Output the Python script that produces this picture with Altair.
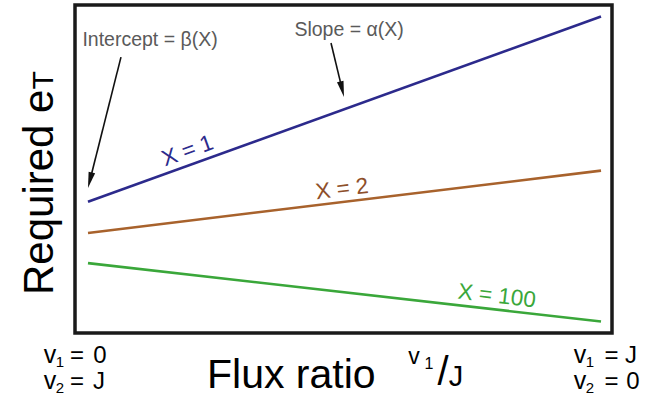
import altair as alt
import pandas as pd

# Required e_T as a linear function of the flux ratio v1/J, for three values of X
series = ["X = 1", "X = 2", "X = 100"]
intercepts = [4.0, 3.05, 2.13]      # beta(X): value at v1/J = 0
endpoints = [9.65, 4.95, 0.35]      # value at v1/J = 1
line_colors = ["#2c2a8c", "#a8622c", "#3aa73a"]

flux = [0.0, 1.0]

# labels that sit along each line
label_x = [0.194, 0.495, 0.797]
label_y = [5.55, 4.39, 1.13]
label_angle = [340.1, 353.1, 6.6]
label_colors = ["#2c2a8c", "#8e4f2a", "#3aa73a"]

# callouts for the intercept and the slope
note_text = ["Intercept = \u03b2(X)", "Slope = \u03b1(X)"]
note_x = [0.121, 0.509]
note_y = [8.93, 9.24]
arrow_x0 = [0.0643, 0.4737]
arrow_y0 = [8.41, 8.84]
arrow_x1 = [0.0057, 0.4936]
arrow_y1 = [4.77, 7.55]
tip_x = [0.0, 0.499]
tip_y = [4.42, 7.195]
tip_angle = [14.1, 346.5]

X_DOMAIN = [-0.0253, 1.0214]
Y_DOMAIN = [0, 10]
FONT = "Liberation Sans"

xs = alt.Scale(domain=X_DOMAIN, nice=False, zero=False)
ys = alt.Scale(domain=Y_DOMAIN, nice=False, zero=False)

rows = []
for name, b, e in zip(series, intercepts, endpoints):
    rows.append({"series": name, "x": flux[0], "y": b})
    rows.append({"series": name, "x": flux[1], "y": e})
lines_df = pd.DataFrame(rows)

lines = alt.Chart(lines_df).mark_line(strokeWidth=2.6).encode(
    x=alt.X("x:Q", scale=xs, axis=None),
    y=alt.Y("y:Q", scale=ys, axis=None),
    color=alt.Color("series:N", scale=alt.Scale(domain=series, range=line_colors), legend=None),
)

labels_df = pd.DataFrame({
    "text": series, "x": label_x, "y": label_y,
    "angle": label_angle, "color": label_colors,
})
line_labels = alt.Chart(labels_df).mark_text(
    font=FONT, fontSize=22.5, align="center", baseline="middle"
).encode(
    x=alt.X("x:Q", scale=xs), y=alt.Y("y:Q", scale=ys),
    text="text:N",
    angle=alt.Angle("angle:Q", scale=None),
    color=alt.Color("color:N", scale=None),
)

notes_df = pd.DataFrame({"text": note_text, "x": note_x, "y": note_y})
notes = alt.Chart(notes_df).mark_text(
    font=FONT, fontSize=19.5, align="center", baseline="middle", color="#5a5a5a"
).encode(x=alt.X("x:Q", scale=xs), y=alt.Y("y:Q", scale=ys), text="text:N")

shafts_df = pd.DataFrame({"x": arrow_x0, "y": arrow_y0, "x2": arrow_x1, "y2": arrow_y1})
shafts = alt.Chart(shafts_df).mark_rule(color="#111111", strokeWidth=1.6).encode(
    x=alt.X("x:Q", scale=xs), y=alt.Y("y:Q", scale=ys), x2="x2:Q", y2="y2:Q"
)

heads_df = pd.DataFrame({"x": tip_x, "y": tip_y, "angle": tip_angle})
heads = alt.Chart(heads_df).mark_point(
    shape="M0,0 L-0.42,-2 L0.42,-2 Z", size=256, filled=True,
    color="#111111", opacity=1, strokeWidth=0
).encode(
    x=alt.X("x:Q", scale=xs), y=alt.Y("y:Q", scale=ys),
    angle=alt.Angle("angle:Q", scale=None),
)

# axis titles drawn as text, left-anchored on their baseline
title_text = ["Flux ratio", "Required e", "T"]
title_x = [0.232, -0.0682, -0.0682]
title_y = [-1.677, 1.159, 7.42]
title_size = [41, 42, 30]
title_angle = [0, 270, 270]
titles_df = pd.DataFrame({
    "text": title_text, "x": title_x, "y": title_y,
    "size": title_size, "angle": title_angle,
})
titles = alt.Chart(titles_df).mark_text(
    font=FONT, align="left", baseline="alphabetic", color="#000000"
).encode(
    x=alt.X("x:Q", scale=xs), y=alt.Y("y:Q", scale=ys), text="text:N",
    size=alt.Size("size:Q", scale=None),
    angle=alt.Angle("angle:Q", scale=None),
)

# end-of-axis conditions and the v1/J ratio, pieced together glyph group by glyph group
tick_text = ["v", "1", "=", "0", "v", "2", "=", "J",
             "v", "1", "=", "J", "v", "2", "=", "0",
             "v", "1", "/", "J"]
tick_x = [-0.0741, -0.0546, -0.0214, 0.0234, -0.0741, -0.0546, -0.0214, 0.0214,
          0.9591, 0.9786, 1.0205, 1.0585, 0.9591, 0.9786, 1.0205, 1.0624,
          0.6355, 0.6647, 0.692, 0.7173]
tick_y = [-0.915, -1.037, -0.915, -0.915, -1.707, -1.829, -1.707, -1.707,
          -0.915, -1.037, -0.915, -0.915, -1.707, -1.829, -1.707, -1.707,
          -0.945, -1.098, -1.585, -1.616]
tick_size = [25, 15, 24, 24, 25, 15, 24, 24,
             25, 15, 24, 24, 25, 15, 24, 24,
             23, 16, 40, 29]
ticks_df = pd.DataFrame({"text": tick_text, "x": tick_x, "y": tick_y, "size": tick_size})
ticks = alt.Chart(ticks_df).mark_text(
    font=FONT, align="center", baseline="alphabetic", color="#000000"
).encode(
    x=alt.X("x:Q", scale=xs), y=alt.Y("y:Q", scale=ys), text="text:N",
    size=alt.Size("size:Q", scale=None),
)

chart = alt.layer(lines, line_labels, notes, shafts, heads, titles, ticks).properties(
    width=537, height=328,
    autosize=alt.AutoSizeParams(type="none"),
    padding={"left": 75, "top": 5, "right": 40, "bottom": 63},
    background="#ffffff",
).configure_view(stroke="#1a1a1a", strokeWidth=3.5)

chart.save("out.html", embed_options={"renderer": "svg", "actions": False})
